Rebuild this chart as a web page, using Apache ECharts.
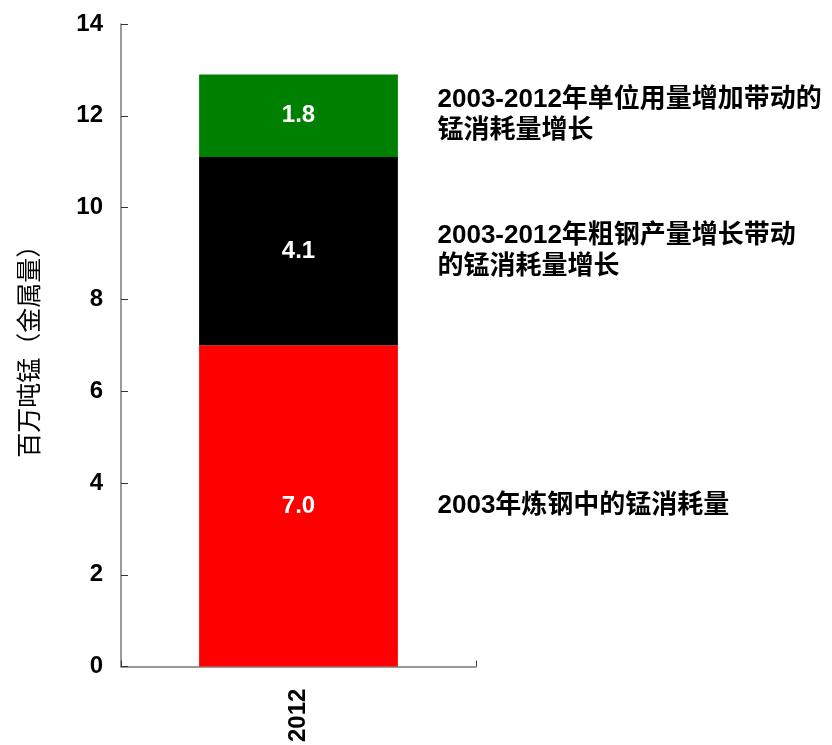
<!DOCTYPE html>
<html>
<head>
<meta charset="utf-8">
<script src="https://cdn.jsdelivr.net/npm/echarts@6/dist/echarts.min.js"></script>
<style>html,body{margin:0;padding:0;background:#fff}#c{width:832px;height:745px}</style>
</head>
<body>
<div id="c"></div>
<script>
// Manganese consumption breakdown, million tonnes (metal content)
const categories = ['2012'];
const baseline2003 = [7.0];
const steelGrowth = [4.1];
const intensityGrowth = [1.8];
const segmentNotes = [
  '2003年炼钢中的锰消耗量',
  '2003-2012年粗钢产量增长带动\n的锰消耗量增长',
  '2003-2012年单位用量增加带动的\n锰消耗量增长'
];
const yTicks = { min: 0, max: 14, interval: 2 };
const yAxisTitle = '百万吨锰（金属量）';

const FONT = '"Liberation Sans", Arial, "Noto Sans CJK SC", sans-serif';
const chart = echarts.init(document.getElementById('c'));

const valueLabel = {
  show: true, position: 'inside', color: '#fff', fontWeight: 'bold',
  fontSize: 24, fontFamily: FONT, formatter: p => p.value.toFixed(1)
};
function seg(name, data, color) {
  return { name, type: 'bar', stack: 'total', data, barWidth: '56%',
    itemStyle: { color }, label: valueLabel, silent: true };
}

chart.setOption({
  animation: false,
  grid: { left: 121, right: 356, top: 24, bottom: 78 },
  xAxis: {
    type: 'category', data: categories,
    axisLine: { lineStyle: { color: '#777', width: 1.5 } },
    axisTick: { show: true, inside: true, length: 6, lineStyle: { color: '#333' } },
    axisLabel: { rotate: 90, fontSize: 24, fontWeight: 'bold', color: '#000', fontFamily: FONT, margin: 22 }
  },
  yAxis: {
    type: 'value', min: yTicks.min, max: yTicks.max, interval: yTicks.interval,
    name: yAxisTitle, nameLocation: 'middle', nameGap: 80, nameRotate: 90,
    nameTextStyle: { fontSize: 25, color: '#000', fontFamily: '"Noto Sans CJK SC", sans-serif' },
    axisLine: { show: true, lineStyle: { color: '#777', width: 1.5 } },
    axisTick: { show: true, inside: true, length: 7, lineStyle: { color: '#333' } },
    splitLine: { show: false },
    axisLabel: { fontSize: 24, fontWeight: 'bold', color: '#000', fontFamily: FONT, margin: 18 }
  },
  series: [
    seg('2003年', baseline2003, '#ff0000'),
    seg('粗钢产量增长', steelGrowth, '#000000'),
    seg('单位用量增加', intensityGrowth, '#008000')
  ]
});

// Place each note beside the middle of its bar segment
const stacks = [baseline2003, steelGrowth, intensityGrowth];
let base = 0;
const notes = stacks.map((arr, i) => {
  const mid = base + arr[0] / 2;
  base += arr[0];
  const pt = chart.convertToPixel({ seriesIndex: i }, [0, mid]);
  const edge = chart.convertToPixel({ xAxisIndex: 0 }, categories[0]);
  return {
    type: 'text',
    x: edge + 139, y: pt[1],
    style: {
      text: segmentNotes[i], fill: '#000', fontSize: 26, fontWeight: 'bold',
      fontFamily: FONT, lineHeight: 31, verticalAlign: 'middle', align: 'left'
    }
  };
});
chart.setOption({ graphic: notes });
</script>
</body>
</html>
